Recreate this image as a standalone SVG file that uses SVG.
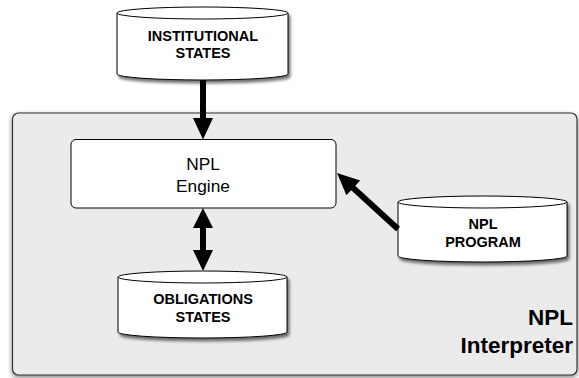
<svg xmlns="http://www.w3.org/2000/svg" width="579" height="378" viewBox="0 0 579 378">
  <style>
    .store { fill: #ffffff; stroke: #000000; stroke-width: 1; }
    .lbl { font-family: "Liberation Sans", Arial, sans-serif; fill: #000000; text-anchor: middle; }
    .b { font-weight: bold; font-size: 14.5px; }
    .reg { font-size: 17.3px; }
    .big { font-weight: bold; font-size: 22.5px; text-anchor: end; }
    .shaft { stroke: #000000; stroke-width: 6; fill: none; }
    .head { fill: #000000; }
  </style>
  <defs>
    <filter id="shadow" x="-10%" y="-10%" width="130%" height="140%">
      <feGaussianBlur in="SourceAlpha" stdDeviation="1.6"/>
      <feOffset dx="1.5" dy="2.5" result="off"/>
      <feComponentTransfer><feFuncA type="linear" slope="0.55"/></feComponentTransfer>
      <feMerge><feMergeNode/><feMergeNode in="SourceGraphic"/></feMerge>
    </filter>
    <filter id="panelShadow" x="-5%" y="-5%" width="110%" height="115%">
      <feGaussianBlur in="SourceAlpha" stdDeviation="2.5"/>
      <feOffset dx="0" dy="1.5" result="off"/>
      <feComponentTransfer><feFuncA type="linear" slope="0.5"/></feComponentTransfer>
      <feMerge><feMergeNode/><feMergeNode in="SourceGraphic"/></feMerge>
    </filter>
  </defs>

  <rect width="579" height="378" fill="#ffffff"/>

  <!-- interpreter container -->
  <g id="interpreter">
    <rect x="12.5" y="113" width="564.5" height="262" rx="6" fill="#ebebeb" stroke="#333333" stroke-width="1.2" filter="url(#panelShadow)"/>
    <text class="lbl big" x="573" y="325">NPL</text>
    <text class="lbl big" x="573" y="353">Interpreter</text>
  </g>

  <!-- institutional states store -->
  <g id="institutional-states">
    <g filter="url(#shadow)">
      <path class="store" d="M117,13 L117,74 A85.5,6 0 0 0 288,74 L288,13 A85.5,6 0 0 0 117,13 Z"/>
      <path class="store" fill="none" d="M117,13 A85.5,6 0 0 0 288,13"/>
    </g>
    <text class="lbl b" x="203" y="41">INSTITUTIONAL</text>
    <text class="lbl b" x="203" y="58">STATES</text>
  </g>

  <!-- engine -->
  <g id="engine">
    <rect x="71" y="139.5" width="265" height="68.5" rx="5" fill="#ffffff" stroke="#000000" stroke-width="1"/>
    <text class="lbl reg" x="203" y="169.5">NPL</text>
    <text class="lbl reg" x="203" y="191.5">Engine</text>
  </g>

  <!-- obligations states store -->
  <g id="obligations-states">
    <g filter="url(#shadow)">
      <path class="store" d="M118,277 L118,332 A84.5,6 0 0 0 287,332 L287,277 A84.5,6 0 0 0 118,277 Z"/>
      <path class="store" fill="none" d="M118,277 A84.5,6 0 0 0 287,277"/>
    </g>
    <text class="lbl b" x="203" y="304">OBLIGATIONS</text>
    <text class="lbl b" x="203" y="322">STATES</text>
  </g>

  <!-- npl program store -->
  <g id="npl-program">
    <g filter="url(#shadow)">
      <path class="store" d="M398,202 L398,256 A84.5,6 0 0 0 567,256 L567,202 A84.5,6 0 0 0 398,202 Z"/>
      <path class="store" fill="none" d="M398,202 A84.5,6 0 0 0 567,202"/>
    </g>
    <text class="lbl b" x="483" y="229">NPL</text>
    <text class="lbl b" x="483" y="247">PROGRAM</text>
  </g>

  <!-- connectors -->
  <g id="connectors">
    <!-- institutional states -> engine -->
    <line class="shaft" x1="203" y1="80" x2="203" y2="120"/>
    <polygon class="head" points="193,118 213,118 203,139.5"/>
    <!-- engine <-> obligations states -->
    <line class="shaft" x1="203" y1="225" x2="203" y2="252"/>
    <polygon class="head" points="203,208 213,228 193,228"/>
    <polygon class="head" points="193,250 213,250 203,271"/>
    <!-- npl program -> engine -->
    <line class="shaft" x1="398" y1="229" x2="351" y2="186"/>
    <polygon class="head" points="337,173 360.2,180.5 346.4,195.3"/>
  </g>
</svg>
